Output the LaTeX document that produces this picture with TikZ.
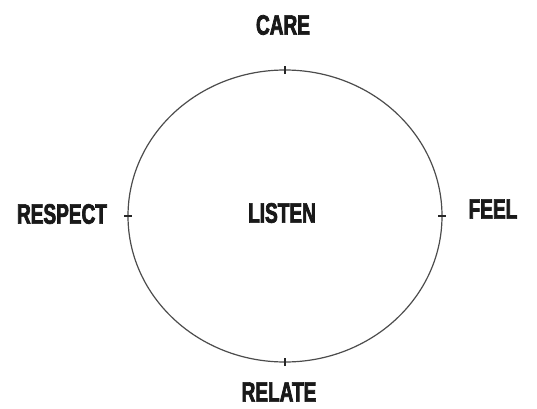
\documentclass[tikz,border=0pt]{standalone}
\usepackage{fontspec}
\setmainfont{Liberation Sans}
\newfontfamily\wordfont[FakeStretch=0.68,FakeBold=2.5]{Liberation Sans Bold}
\usetikzlibrary{positioning}

\tikzset{
  word/.style={font=\wordfont\fontsize{28}{30}\selectfont, text=black!90, inner sep=0pt},
  ring/.style={draw=black!70, line width=1.2pt},
  tick/.style={draw=black!85, line width=1.3pt}
}

\begin{document}
\begin{tikzpicture}[x=1pt,y=1pt]
    \useasboundingbox (0,0) rectangle (537,408);
    \coordinate (c) at (285,192);
    \draw[ring] (c) ellipse [x radius=157, y radius=146];
    \coordinate (top) at (285,338);
    \coordinate (bot) at (285,46);
    \coordinate (lft) at (128,192);
    \coordinate (rgt) at (442,192);
    % small marks on the ring
    \draw[tick] ([yshift=-4]top) -- ([yshift=4]top);
    \draw[tick] ([yshift=-4]bot) -- ([yshift=4]bot);
    \draw[tick] ([xshift=-4]lft) -- ([xshift=4]lft);
    \draw[tick] ([xshift=-4]rgt) -- ([xshift=4]rgt);
    \node[word] (care) at (283,383) {CARE};
    \node[word] (listen) at (282,195) {LISTEN};
    \node[word] (respect) at (62,194) {RESPECT};
    \node[word] (feel) at (493,199) {FEEL};
    \node[word] (relate) at (279,16) {RELATE};
\end{tikzpicture}
\end{document}
